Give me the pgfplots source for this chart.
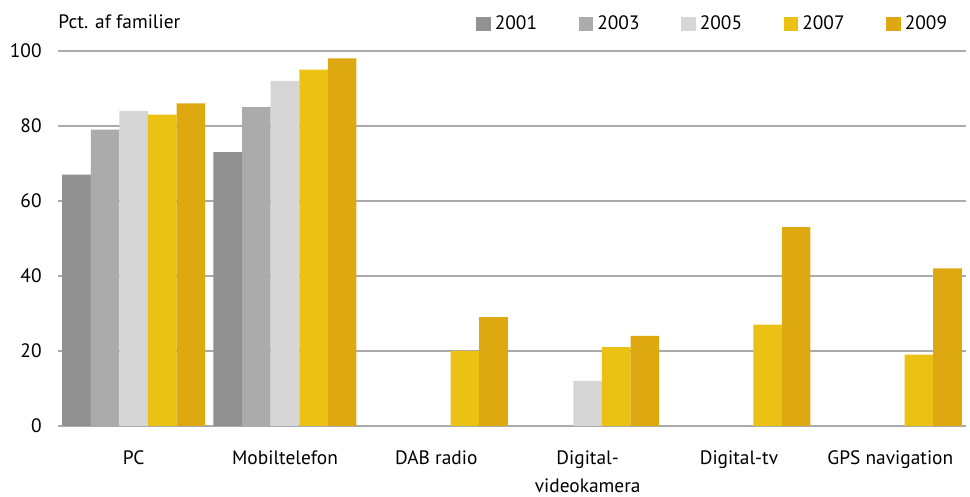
\documentclass[border=0pt]{standalone}
\usepackage{fontspec}
\setmainfont{PT Sans}
\usepackage{pgfplots}
\pgfplotsset{compat=1.18}
\definecolor{c01}{HTML}{919191}
\definecolor{c03}{HTML}{ABABAB}
\definecolor{c05}{HTML}{D6D6D6}
\definecolor{c07}{HTML}{EBC213}
\definecolor{c09}{HTML}{DEA811}
\definecolor{gridc}{HTML}{ABABAB}
\begin{document}
\begin{tikzpicture}
\begin{axis}[
  width=454pt, height=187.5pt, scale only axis,
  xmin=-0.5, xmax=5.5, ymin=0, ymax=100,
  ybar=0pt, bar width=14.3pt,
  axis line style={draw=none},
  major tick length=0pt,
  ytick={0,20,40,60,80,100},
  ymajorgrids, grid style={gridc, line width=0.9pt},
  xtick={0,1,2,3,4,5},
  xticklabels={PC, Mobiltelefon, DAB radio, {Digital-\\videokamera}, Digital-tv, GPS navigation},
  font=\fontsize{9.7pt}{14pt}\selectfont,
  /pgf/number format/assume math mode=true,
  yticklabel style={inner sep=0pt, xshift=-8pt, anchor=east},
  xticklabel style={align=center, inner sep=0pt, anchor=north, yshift=-12pt},
  legend columns=5,
  legend style={draw=none, fill=none, at={(rel axis cs:0.4604,1.072)}, anchor=west,
    inner sep=0pt, /tikz/every even column/.append style={column sep=18.9pt},
    font=\fontsize{9.7pt}{14pt}\selectfont},
  legend image code/.code={\fill[draw=none] (0pt,-3.6pt) rectangle (7.2pt,3.6pt);},
  clip=false,
]
\addplot[fill=c01, draw=none] coordinates {(0,67) (1,73)};
\addplot[fill=c03, draw=none] coordinates {(0,79) (1,85)};
\addplot[fill=c05, draw=none] coordinates {(0,84) (1,92) (3,12)};
\addplot[fill=c07, draw=none] coordinates {(0,83) (1,95) (2,20) (3,21) (4,27) (5,19)};
\addplot[fill=c09, draw=none] coordinates {(0,86) (1,98) (2,29) (3,24) (4,53) (5,42)};
\legend{2001,2003,2005,2007,2009}
\node[anchor=base west, inner sep=0pt, font=\fontsize{9.7pt}{14pt}\selectfont] at ([yshift=11pt]rel axis cs:0,1) {Pct. af familier};
\coordinate (bl) at (rel axis cs:0,0);
\end{axis}
\pgfresetboundingbox
\path (bl) ++(-29pt,-35.5pt) rectangle ++(485pt,248.5pt);
\end{tikzpicture}
\end{document}
